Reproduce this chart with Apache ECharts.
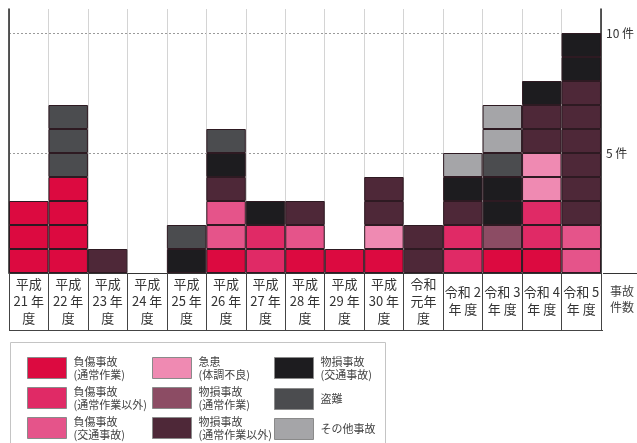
<!DOCTYPE html>
<html>
<head>
<meta charset="utf-8">
<script src="https://cdn.jsdelivr.net/npm/echarts@6/dist/echarts.min.js"></script>
<style>html,body{margin:0;padding:0;background:#fff}#c{width:637px;height:443px}</style>
</head>
<body>
<div id="c"></div>
<script>
const categories = ['平成\n21 年\n度','平成\n22 年\n度','平成\n23 年\n度','平成\n24 年\n度','平成\n25 年\n度','平成\n26 年\n度','平成\n27 年\n度','平成\n28 年\n度','平成\n29 年\n度','平成\n30 年\n度','令和\n元年\n度','令和 2\n年 度','令和 3\n年 度','令和 4\n年 度','令和 5\n年 度'];
const seriesNames = ['負傷事故\n(通常作業)','負傷事故\n(通常作業以外)','負傷事故\n(交通事故)','急患\n(体調不良)','物損事故\n(通常作業)','物損事故\n(通常作業以外)','物損事故\n(交通事故)','盗難','その他事故'];
const injuryNormal  = [3,4,0,0,0,1,0,1,1,1,0,0,1,1,0];
const injuryOther   = [0,0,0,0,0,0,2,0,0,0,0,2,0,2,0];
const injuryTraffic = [0,0,0,0,0,2,0,1,0,0,0,0,0,0,2];
const illness       = [0,0,0,0,0,0,0,0,0,1,0,0,0,2,0];
const propNormal    = [0,0,0,0,0,0,0,0,0,0,0,0,1,0,0];
const propOther     = [0,0,1,0,0,1,0,1,0,2,2,1,0,2,6];
const propTraffic   = [0,0,0,0,1,1,1,0,0,0,0,1,2,1,2];
const theft         = [0,3,0,0,1,1,0,0,0,0,0,0,1,0,0];
const otherAcc      = [0,0,0,0,0,0,0,0,0,0,0,1,2,0,0];
const yTicks = [5, 10];

const allData = [injuryNormal, injuryOther, injuryTraffic, illness, propNormal, propOther, propTraffic, theft, otherAcc];
const colors = ['#dc0a40','#e02a66','#e5548a','#ef8ab2','#8c4c64','#4e2838','#1d1c1f','#4b4c4f','#a5a5a8'];

// each count is drawn as stacked unit cells (one layer per unit)
const series = [];
allData.forEach((arr, s) => {
  const maxV = Math.max(...arr);
  for (let k = 1; k <= maxV; k++) {
    series.push({
      name: seriesNames[s],
      type: 'bar',
      stack: 'total',
      barCategoryGap: '0%',
      itemStyle: { color: colors[s], borderColor: '#2e1a22', borderWidth: 1 },
      data: arr.map(v => v >= k ? 1 : null)
    });
  }
});

const font = '"Noto Sans CJK JP", "Noto Sans", sans-serif';
const legendPos = [
  [22, 350], [22, 380], [22, 410],
  [147, 350], [147, 380], [147, 410],
  [269, 350], [269, 383], [269, 413]
];
const legends = seriesNames.map((n, i) => ({
  data: [n],
  left: legendPos[i][0], top: legendPos[i][1],
  orient: 'vertical',
  icon: 'rect', itemWidth: 39, itemHeight: 21, itemGap: 0,
  selectedMode: false,
  itemStyle: { borderColor: '#8a8a8a', borderWidth: 1 },
  textStyle: { fontFamily: font, fontSize: 11, lineHeight: 13, color: '#444', padding: [0,0,0,2] }
}));

const chart = echarts.init(document.getElementById('c'));
chart.setOption({
  animation: false,
  color: colors,
  grid: { left: 9, right: 34, top: 9, bottom: 170, containLabel: false },
  legend: legends,
  xAxis: {
    type: 'category',
    data: categories,
    boundaryGap: true,
    axisLine: { show: true, lineStyle: { color: '#333', width: 1 } },
    axisTick: { show: true, interval: 0, length: 57, lineStyle: { color: '#444', width: 1 } },
    axisLabel: { interval: 0, margin: 28, verticalAlign: 'middle', fontFamily: font, fontSize: 13, lineHeight: 17, color: '#333' },
    splitLine: { show: true, interval: 0, lineStyle: { color: '#d4d4d4', width: 1 } }
  },
  yAxis: [{
    type: 'value', min: 0, max: 11, interval: 5, position: 'left',
    axisLine: { show: true, lineStyle: { color: '#222', width: 1.5 } },
    axisTick: { show: false }, axisLabel: { show: false },
    splitLine: { show: true, showMinLine: false, showMaxLine: false, lineStyle: { color: '#9a9a9a', type: [2, 2], width: 1 } }
  }, {
    type: 'value', min: 0, max: 11, interval: 5, position: 'right',
    axisLine: { show: true, lineStyle: { color: '#222', width: 1.5 } },
    axisTick: { show: false },
    axisLabel: { show: true, margin: 5, fontFamily: font, fontSize: 12, color: '#333',
      formatter: v => yTicks.indexOf(v) >= 0 ? v + ' 件' : '' },
    splitLine: { show: false }
  }],
  series: series,
  graphic: [
    { type: 'line', shape: { x1: 603, y1: 273.5, x2: 637, y2: 273.5 }, style: { stroke: '#333', lineWidth: 1 } },
    { type: 'line', shape: { x1: 9, y1: 330.5, x2: 603, y2: 330.5 }, style: { stroke: '#444', lineWidth: 1 } },
    { type: 'text', left: 610, top: 283, style: { text: '事故\n件数', fontFamily: font, fontSize: 12, lineHeight: 16, fill: '#444' } },
    { type: 'rect', shape: { x: 10.5, y: 342.5, width: 375, height: 110 }, style: { fill: 'none', stroke: '#c4c4c4', lineWidth: 1 }, z: -1 }
  ]
});
</script>
</body>
</html>
